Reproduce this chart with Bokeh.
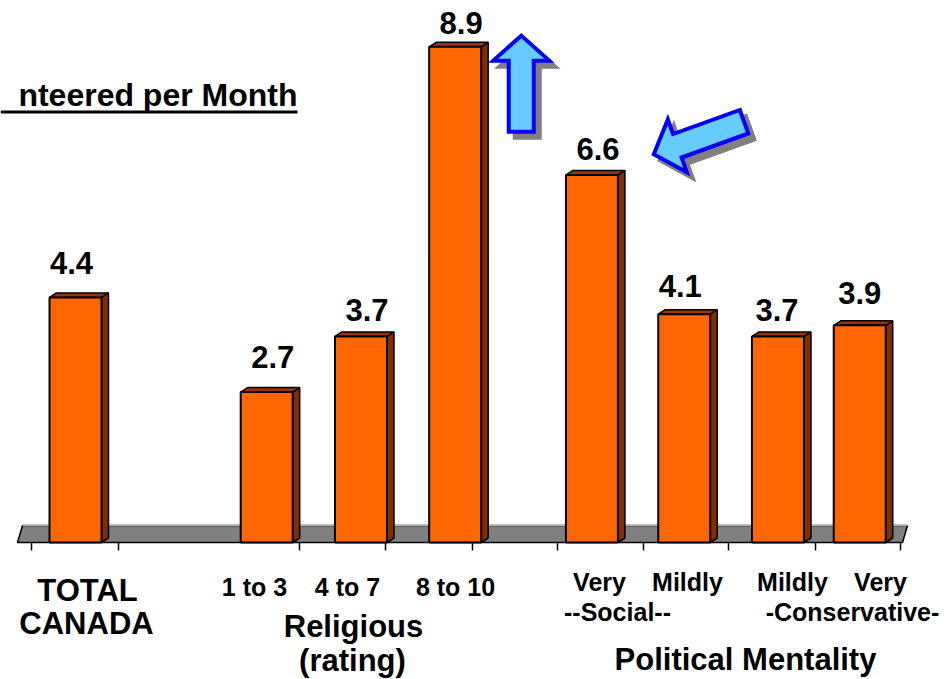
import math
from bokeh.plotting import figure
from bokeh.models import Range1d, ColumnDataSource
from bokeh.core.properties import value
from bokeh.embed import file_html
from bokeh.resources import INLINE

# ---------------- data ----------------
categories = ["TOTAL CANADA", "1 to 3", "4 to 7", "8 to 10",
              "Very Social", "Mildly Social", "Mildly Conservative", "Very Conservative"]
hours = [4.4, 2.7, 3.7, 8.9, 6.6, 4.1, 3.7, 3.9]
title_text = "nteered per Month"
row1_labels = ["TOTAL", "1 to 3", "4 to 7", "8 to 10", "Very", "Mildly", "Mildly", "Very"]
row2_labels = ["CANADA", "--Social--", "-Conservative-"]
group_labels = ["Religious", "(rating)", "Political Mentality"]

# ---------------- layout ----------------
PX_X = 94.0          # pixels per slot
PX_Y = 55.7          # pixels per hour
FONT = value("Liberation Sans")
W, H = 947, 679

bar_x = [0.0, 2.034, 3.037, 4.039, 5.494, 6.476, 7.473, 8.343]   # slot positions
bar_w = 52.0 / PX_X
dep_x = 7.0 / PX_X
dep_y = 4.5 / PX_Y
label_gap_px = [23, 24, 15, 13, 15, 17, 15, 21]     # value label baseline above bar
label_dx_px = [-4, 6, 6, 6, 6, -4, -1, 0]           # value label shift from bar centre

def sx(px):   # page pixel x -> slot units
    return (px - 75.0) / PX_X

def sy(py):   # page pixel y -> value units
    return (542.0 - py) / PX_Y

def mid(baseline_px, size):   # baseline pixel -> middle-of-text value
    return sy(baseline_px - 0.36 * size)

p = figure(width=W, height=H, output_backend="svg", toolbar_location=None,
           x_range=Range1d(sx(0), sx(W)), y_range=Range1d(sy(H), sy(0)),
           x_axis_location=None, y_axis_location=None, min_border=0,
           background_fill_color="white", border_fill_color="white")
p.outline_line_color = None
p.grid.visible = False

# floor
floor_depth = 17.0 / PX_Y
floor_slant = 5.0 / PX_X
fl, fr = sx(17), sx(902)
p.patch([fl, fl + floor_slant, fr + floor_slant, fr], [0, floor_depth, floor_depth, 0],
        fill_color="#808080", line_color="black", line_width=1.5)
p.line([fl + floor_slant, fr + floor_slant], [floor_depth, floor_depth],
       line_color="#B0B0B0", line_width=1)

# ticks under the floor
tick_px = [31, 118, 299, 385, 472, 557, 643, 728, 815, 900]
tick_x = [sx(t) for t in tick_px]
p.segment(x0=tick_x, y0=[0] * len(tick_x), x1=tick_x, y1=[-8.0 / PX_Y] * len(tick_x),
          line_color="black", line_width=1.5)

# bars
left = [x - bar_w / 2 for x in bar_x]
right = [x + bar_w / 2 for x in bar_x]
src = ColumnDataSource(dict(left=left, right=right, top=hours, bottom=[0] * len(hours)))

side_xs = [[r, r + dep_x, r + dep_x, r] for r in right]
side_ys = [[0, dep_y, h + dep_y, h] for h in hours]
top_xs = [[l, l + dep_x, r + dep_x, r] for l, r in zip(left, right)]
top_ys = [[h, h + dep_y, h + dep_y, h] for h in hours]
p.patches(side_xs, side_ys, fill_color="#7F2F00", line_color="black", line_width=1.5)
p.patches(top_xs, top_ys, fill_color="#993300", line_color="black", line_width=1.5)
p.quad(left="left", right="right", top="top", bottom="bottom", source=src,
       fill_color="#FF6600", line_color="black", line_width=2)

# value labels
VAL_SIZE = 31
p.text(x=[x + d / PX_X for x, d in zip(bar_x, label_dx_px)],
       y=[h + (g + 0.36 * VAL_SIZE) / PX_Y for h, g in zip(hours, label_gap_px)],
       text=[f"{h:.1f}" for h in hours], text_font=FONT, text_font_style="bold",
       text_font_size=f"{VAL_SIZE}px", text_align="center", text_baseline="middle",
       text_color="black")

# title (cropped at left like the reference)
title_right = sx(297)
p.text(x=[title_right], y=[mid(106.5, 32)], text=[title_text], text_font=FONT,
       text_font_style="bold", text_font_size="32px", text_align="right",
       text_baseline="middle", text_color="black")
p.line([sx(0), title_right], [sy(111.5), sy(111.5)], line_color="black", line_width=3)

# category labels
def label(txts, xs_px, base_px, size):
    p.text(x=[sx(v) for v in xs_px], y=[mid(base_px, size)] * len(txts), text=txts,
           text_font=FONT, text_font_style="bold", text_font_size=f"{size}px",
           text_align="center", text_baseline="middle", text_color="black")

label([row1_labels[0]], [87], 601, 31)
label([row2_labels[0]], [86], 634, 31)
label(row1_labels[1:4], [254, 347, 455], 595, 25)
label(row1_labels[4:8], [599, 687, 792, 880], 590, 25)
label(row2_labels[1:3], [617, 852], 620, 25)
label([group_labels[0]], [353], 637, 31)
label([group_labels[1]], [352], 671, 31)
label([group_labels[2]], [745], 670, 31)

# block arrows
def arrow(tip_x, tip_y, dx, dy, L=96, head_len=25, head_hw=28, shaft_hw=12.5, off=(0, 0)):
    n = math.hypot(dx, dy)
    bx, by = -dx / n, -dy / n          # backward direction (screen px, y down)
    nx, ny = -by, bx
    local = [(0, 0), (head_len, head_hw), (head_len, shaft_hw), (L, shaft_hw),
             (L, -shaft_hw), (head_len, -shaft_hw), (head_len, -head_hw)]
    xs, ys = [], []
    for u, v in local:
        px = u * bx + v * nx + off[0]
        py = u * by + v * ny + off[1]
        xs.append(tip_x + px / PX_X)
        ys.append(tip_y - py / PX_Y)
    return xs, ys

arrows = [
    (bar_x[3] + 0.703, hours[3] + 0.20, 0.0, -1.0),
    (bar_x[4] + 0.658, hours[4] + 0.37, -0.941, 0.339),
]
for tx, ty, dx, dy in arrows:
    xs, ys = arrow(tx, ty, dx, dy, off=(6, 6))
    p.patch(xs, ys, fill_color="#808080", line_color="#808080", line_width=4,
            line_join="miter")
for tx, ty, dx, dy in arrows:
    xs, ys = arrow(tx, ty, dx, dy)
    p.patch(xs, ys, fill_color="#66CCFF", line_color="#0000FF", line_width=4,
            line_join="miter")

open("out.html", "w").write(file_html(p, INLINE))
